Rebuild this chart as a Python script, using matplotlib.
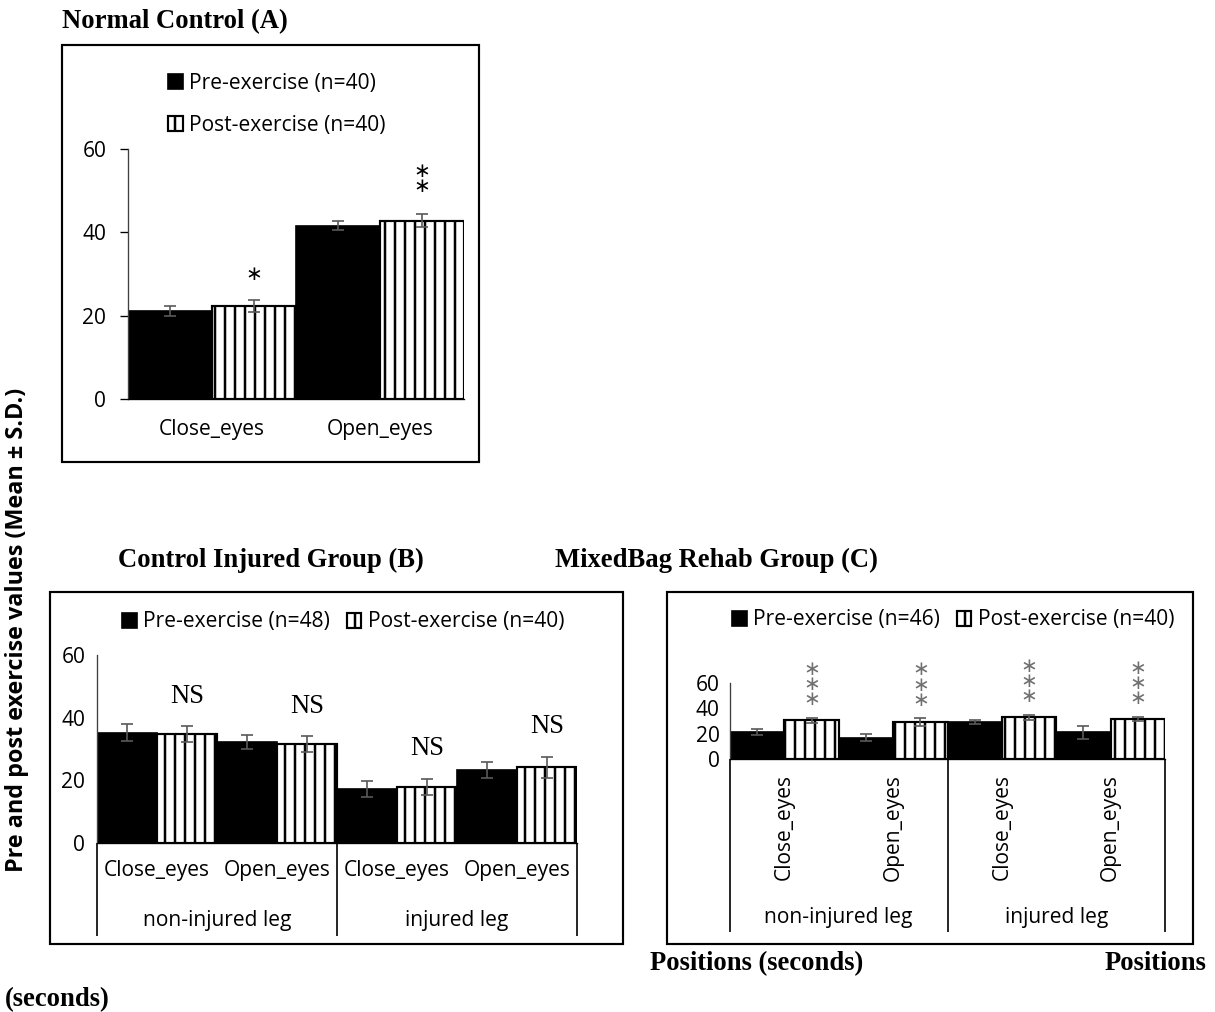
import numpy as np
import matplotlib
matplotlib.use("Agg")
import matplotlib.pyplot as plt
from matplotlib.patches import Rectangle

# panel A: normal control
cats_a = ['Close_eyes', 'Open_eyes']
pre_a = [21.2, 41.6]
pre_a_sd = [1.2, 1.0]
post_a = [22.4, 42.8]
post_a_sd = [1.4, 1.6]
stars_a = ['\u2217', '\u2217\n\u2217']

# panels B and C: positions grouped by leg
cats_bc = ['Close_eyes', 'Open_eyes', 'Close_eyes', 'Open_eyes']
legs = ['non-injured leg', 'injured leg']

pre_b = [35.2, 32.3, 17.3, 23.3]
pre_b_sd = [2.7, 2.2, 2.5, 2.7]
post_b = [34.7, 31.6, 17.9, 24.1]
post_b_sd = [2.5, 2.4, 2.6, 3.4]
marks_b = ['NS', 'NS', 'NS', 'NS']

pre_c = [21.1, 16.9, 29.1, 21.1]
pre_c_sd = [2.2, 2.6, 1.5, 5.3]
post_c = [30.4, 29.1, 32.8, 31.5]
post_c_sd = [2.1, 3.0, 2.1, 1.7]
stars_c = ['\u2217\n\u2217\n\u2217'] * 4

W, H, DPI = 1215, 1012, 120
FS = 12.6
plt.rcParams['font.family'] = ['Open Sans', 'DejaVu Sans']
plt.rcParams['hatch.linewidth'] = 1.5
plt.rcParams['hatch.color'] = 'black'

fig = plt.figure(figsize=(W / DPI, H / DPI), dpi=DPI)


def px(x0, y0, x1, y1):
    return [x0 / W, 1 - y1 / H, (x1 - x0) / W, (y1 - y0) / H]


def draw(ax, pre, pre_sd, post, post_sd, n_pre, n_post):
    x = np.arange(len(pre))
    b1 = ax.bar(x - 0.25, pre, 0.5, color='black', edgecolor='black',
                label='Pre-exercise (n=%d)' % n_pre)
    b2 = ax.bar(x + 0.25, post, 0.5, color='white', edgecolor='black',
                hatch='||', linewidth=1.3, label='Post-exercise (n=%d)' % n_post)
    ax.errorbar(x - 0.25, pre, yerr=pre_sd, fmt='none', ecolor='#595959',
                elinewidth=1, capsize=3.5, capthick=1)
    ax.errorbar(x + 0.25, post, yerr=post_sd, fmt='none', ecolor='#595959',
                elinewidth=1, capsize=3.5, capthick=1)
    ax.set_xlim(-0.5, len(pre) - 0.5)
    ax.set_ylim(0, 60)
    ax.set_yticks([0, 20, 40, 60])
    ax.spines[['top', 'right']].set_visible(False)
    ax.spines['left'].set_color('#404040')
    ax.tick_params(axis='y', labelsize=FS)
    return x, b1, b2


def legend(ax, handles, cx, cy, ncol):
    ax.legend(handles=handles, loc='center', bbox_to_anchor=(cx / W, 1 - cy / H),
              bbox_transform=fig.transFigure, frameon=False, fontsize=FS, ncol=ncol,
              handlelength=0.7, handleheight=0.7, handletextpad=0.3,
              columnspacing=0.8, labelspacing=1.0, borderpad=0)


# ---- panel A
ax_a = fig.add_axes(px(128, 149, 464, 399))
x, b1, b2 = draw(ax_a, pre_a, pre_a_sd, post_a, post_a_sd, 40, 40)
ax_a.set_xticks(x, cats_a)
ax_a.tick_params(axis='x', length=0, pad=12, labelsize=FS)
ax_a.tick_params(axis='y', length=5, pad=8)
for i in range(len(x)):
    top = post_a[i] + post_a_sd[i]
    off = 15 if stars_a[i].count('\n') == 0 else 21
    ax_a.annotate(stars_a[i], (x[i] + 0.25, top), xytext=(0, off),
                  textcoords='offset points', ha='center', va='center',
                  fontsize=12, family='DejaVu Sans', linespacing=0.7)
legend(ax_a, [b1, b2], 277, 104, 1)


def group_axis(ax, x, pad_cat, sep_len, pad_grp, rot=0):
    ax.set_xticks(x, cats_bc, rotation=rot)
    ax.tick_params(axis='x', which='major', length=0, pad=pad_cat, labelsize=FS)
    ax.set_xticks([-0.5, 1.5, 3.5], minor=True)
    ax.tick_params(axis='x', which='minor', length=sep_len, width=1, color='black')
    sec = ax.secondary_xaxis('bottom')
    sec.set_xticks([0.5, 2.5], legs)
    sec.tick_params(length=0, pad=pad_grp, labelsize=FS)
    sec.spines['bottom'].set_visible(False)


# ---- panel B
ax_b = fig.add_axes(px(97, 655, 577, 843))
x, b1, b2 = draw(ax_b, pre_b, pre_b_sd, post_b, post_b_sd, 48, 40)
group_axis(ax_b, x, 10, 56, 40)
ax_b.tick_params(axis='y', length=0, pad=7)
for i in range(len(x)):
    top = post_b[i] + post_b_sd[i]
    ax_b.annotate(marks_b[i], (x[i] + 0.25, top), xytext=(0, 18),
                  textcoords='offset points', ha='center', va='center',
                  fontsize=16, family='Liberation Serif')
legend(ax_b, [b1, b2], 343, 622, 2)

# ---- panel C
ax_c = fig.add_axes(px(730, 683, 1165, 759))
x, b1, b2 = draw(ax_c, pre_c, pre_c_sd, post_c, post_c_sd, 46, 40)
group_axis(ax_c, x, 9, 104, 89, rot=90)
ax_c.tick_params(axis='y', length=0, pad=6)
for i in range(len(x)):
    top = post_c[i] + post_c_sd[i]
    ax_c.annotate(stars_c[i], (x[i] + 0.25, top), xytext=(0, 20),
                  textcoords='offset points', ha='center', va='center',
                  fontsize=12, family='DejaVu Sans', color='#707070',
                  linespacing=0.75)
legend(ax_c, [b1, b2], 953, 620, 2)

# panel frames
for x0, y0, x1, y1 in [(62, 45, 479, 462), (50, 592, 623, 944), (667, 592, 1193, 944)]:
    fig.patches.append(Rectangle((x0 / W, 1 - y1 / H), (x1 - x0) / W, (y1 - y0) / H,
                                 transform=fig.transFigure, fill=False,
                                 edgecolor='black', linewidth=1.3))

serif = dict(family='Liberation Serif', weight='bold', fontsize=16, va='center')
fig.text(62 / W, 1 - 22 / H, 'Normal Control (A)', **serif)
fig.text(118 / W, 1 - 560 / H, 'Control Injured Group (B)', **serif)
fig.text(555 / W, 1 - 560 / H, 'MixedBag Rehab Group (C)', **serif)
fig.text(650 / W, 1 - 964 / H, 'Positions (seconds)', **serif)
fig.text(1105 / W, 1 - 964 / H, 'Positions', **serif)
fig.text(5 / W, 1 - 1000 / H, '(seconds)', **serif)
fig.text(17 / W, 1 - 630 / H, 'Pre and post exercise values (Mean \u00b1 S.D.)',
         rotation=90, ha='center', va='center', fontsize=14, weight='bold')

fig.savefig('out.png', dpi=DPI)
